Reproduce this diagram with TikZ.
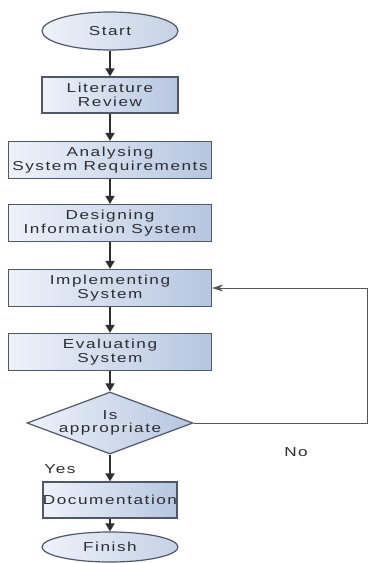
\documentclass[tikz,border=0pt]{standalone}
\usepackage{fontspec}
\setmainfont{Liberation Sans}[FakeStretch=1.32, LetterSpace=12]
\usepackage{tikz}
\usetikzlibrary{shapes.geometric, arrows.meta}

\definecolor{fillleft}{RGB}{238,242,250}
\definecolor{fillright}{RGB}{182,198,224}
\definecolor{edge}{RGB}{80,88,104}
\definecolor{ink}{RGB}{45,45,50}

\begin{document}
\begin{tikzpicture}[
  x = 1pt, y = 1pt,
  node distance = 64pt,
  every node/.style={font=\fontsize{13}{13.5}\selectfont, text=ink},
  terminal/.style={ellipse, draw=edge, line width=1.2pt, left color=fillleft, right color=fillright!80,
    minimum width = 136pt, minimum height = 38pt, inner sep=0pt},
  block/.style={rectangle, draw=edge, line width=1.2pt, left color=fillleft, right color=fillright,
    align=center, minimum height = 37pt, minimum width = 203pt, inner sep=0pt},
  block_small/.style={block, minimum width = 136pt, minimum height = 36pt},
  decision/.style={diamond, draw=edge, line width=1.2pt, left color=fillleft, right color=fillright,
    align=center, inner sep=-3pt, shape aspect=2.7, minimum width = 166pt, minimum height = 62pt},
  line/.style={draw=ink, line width=1.6pt, -{Triangle[width=9pt, length=8pt]}},
  back/.style={draw=ink!80, line width=0.8pt, -{Stealth[width=7pt, length=11pt]}}
  ]
\useasboundingbox (0,0) rectangle (369,-563);

\node [terminal] (start) at (110,-31) {Start};
\node [block_small, below of=start] (lit) {Literature\\Review};
\node [block, node distance=65pt, below of=lit] (analyse) {Analysing\\System Requirements};
\node [block, node distance=63pt, below of=analyse] (design) {Designing\\Information System};
\node [block, node distance=65pt, below of=design] (impl) {Implementing\\System};
\node [block, below of=impl] (eval) {Evaluating\\System};
\node [decision, node distance=71pt, below of=eval] (check) {Is\\appropriate};
\node [block_small, node distance=77pt, minimum width=134pt, below of=check] (doc) {Documentation};
\node [terminal, node distance=47pt, minimum height=30pt, below of=doc] (finish) {Finish};

\node (yes) at (60,-469) {Yes};
\node (no) at (296,-452) {No};
\coordinate (corner) at (367,0);

\path [line] (start) -- (lit);
\path [line] (lit) -- (analyse);
\path [line] (analyse) -- (design);
\path [line] (design) -- (impl);
\path [line] (impl) -- (eval);
\path [line] (eval) -- (check);
\path [line] (check) -- (doc);
\path [line] (doc) -- (finish);

\path [back] (check.east) -- (check.east -| corner) |- (impl.east);
\end{tikzpicture}
\end{document}
